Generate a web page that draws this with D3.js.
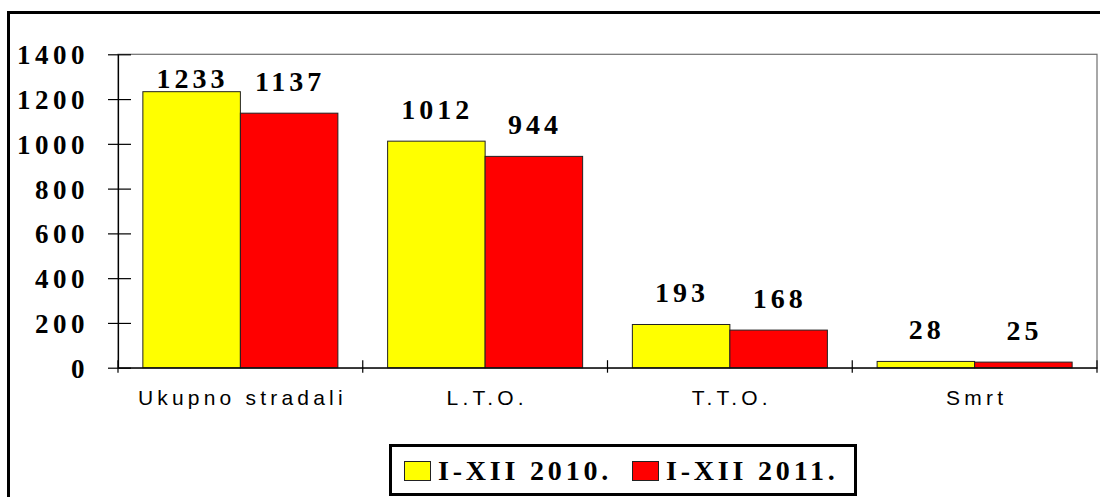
<!DOCTYPE html>
<html>
<head>
<meta charset="utf-8">
<script src="https://cdn.jsdelivr.net/npm/d3@7"></script>
<style>
  body { margin: 0; background: #fff; }
  svg { display: block; }
</style>
</head>
<body>
<div class="chart"></div>
<script>
// Stradali 2010 / 2011 - grouped bars
let categories = ["Ukupno stradali", "L.T.O.", "T.T.O.", "Smrt"];
let seriesNames = ["I-XII 2010.", "I-XII 2011."];
let values2010 = [1233, 1012, 193, 28];
let values2011 = [1137, 944, 168, 25];
let yTicks = [0, 200, 400, 600, 800, 1000, 1200, 1400];
let colors = ["#ffff00", "#ff0000"];

let svgWidth = 1100;
let svgHeight = 497;

let plot = { left: 118, right: 1097, top: 54.3, bottom: 367.7 };

let serif = "'Liberation Serif', 'Times New Roman', serif";
let sans = "'Liberation Sans', Arial, sans-serif";

let svg = d3.select(".chart")
    .append("svg")
    .attr("width", svgWidth)
    .attr("height", svgHeight);

// outer frame (runs off the right/bottom edge)
svg.append("rect")
    .attr("x", 8.5)
    .attr("y", 12.5)
    .attr("width", 1200)
    .attr("height", 600)
    .attr("fill", "none")
    .attr("stroke", "#000")
    .attr("stroke-width", 3);

// scales
let x = d3.scaleBand()
    .domain(categories)
    .range([plot.left, plot.right])
    .padding(0);

let xInner = d3.scaleBand()
    .domain(seriesNames)
    .range([0, x.bandwidth()])
    .paddingInner(0)
    .paddingOuter(0.255);

let y = d3.scaleLinear()
    .domain([0, 1400])
    .range([plot.bottom, plot.top]);

// plot area border (grey top / right)
svg.append("rect")
    .attr("x", plot.left)
    .attr("y", plot.top)
    .attr("width", plot.right - plot.left)
    .attr("height", plot.bottom - plot.top)
    .attr("fill", "none")
    .attr("stroke", "#6e6e6e")
    .attr("stroke-width", 1.2);

// bars
let data = categories.map((c, i) => ({
    cat: c,
    vals: [
        { name: seriesNames[0], value: values2010[i], color: colors[0] },
        { name: seriesNames[1], value: values2011[i], color: colors[1] }
    ]
}));

let groups = svg.selectAll(".grp")
    .data(data)
    .enter()
    .append("g")
    .attr("class", "grp")
    .attr("transform", d => `translate(${x(d.cat)},0)`);

groups.selectAll("rect")
    .data(d => d.vals)
    .enter()
    .append("rect")
    .attr("x", d => xInner(d.name))
    .attr("y", d => y(d.value))
    .attr("width", xInner.bandwidth())
    .attr("height", d => y(0) - y(d.value))
    .attr("fill", d => d.color)
    .attr("stroke", "#222")
    .attr("stroke-width", 1);

// value labels (kept inside the plot area)
groups.selectAll("text")
    .data(d => d.vals)
    .enter()
    .append("text")
    .attr("x", d => xInner(d.name) + xInner.bandwidth() / 2)
    .attr("dx", 1)
    .attr("y", d => Math.max(y(d.value) - 22.5, y(1400) + 34))
    .attr("text-anchor", "middle")
    .attr("font-family", serif)
    .attr("font-weight", "bold")
    .attr("font-size", "28px")
    .attr("letter-spacing", "4px")
    .attr("fill", "#000")
    .text(d => d.value);

// y axis
let leftAxis = d3.axisLeft(y)
    .tickValues(yTicks)
    .tickFormat(d3.format("d"))
    .tickSize(10)
    .tickSizeOuter(0)
    .tickPadding(19);

let yAxis = svg.append("g")
    .attr("transform", `translate(${plot.left},0)`)
    .call(leftAxis);

yAxis.select(".domain").attr("stroke", "#000").attr("stroke-width", 1.2);
yAxis.selectAll(".tick line")
    .attr("x1", 13)
    .attr("x2", -10)
    .attr("stroke", "#000")
    .attr("stroke-width", 1.2);
yAxis.selectAll(".tick text")
    .attr("dy", "9.5px")
    .attr("font-family", serif)
    .attr("font-weight", "bold")
    .attr("font-size", "27px")
    .attr("letter-spacing", "4.5px")
    .attr("fill", "#000");

// x axis: labels at band centres, ticks at band boundaries
let bottomAxis = d3.axisBottom(x).tickSize(0).tickSizeOuter(0);

let xAxis = svg.append("g")
    .attr("transform", `translate(0,${plot.bottom})`)
    .call(bottomAxis);

xAxis.select(".domain").attr("stroke", "#000").attr("stroke-width", 1.2);
xAxis.selectAll(".tick text")
    .attr("y", 37.5)
    .attr("dy", 0)
    .attr("dx", 2)
    .attr("font-family", sans)
    .attr("font-size", "21px")
    .attr("letter-spacing", "4.2px")
    .attr("fill", "#000");

let bounds = categories.map(c => x(c)).concat([x.range()[1]]);
xAxis.selectAll(".bound")
    .data(bounds)
    .enter()
    .append("line")
    .attr("class", "bound")
    .attr("x1", d => d)
    .attr("x2", d => d)
    .attr("y1", -7.5)
    .attr("y2", 5)
    .attr("stroke", "#000")
    .attr("stroke-width", 1.2);

// legend
let legend = svg.append("g");

legend.append("rect")
    .attr("x", 390.5)
    .attr("y", 445.5)
    .attr("width", 465)
    .attr("height", 49)
    .attr("fill", "#fff")
    .attr("stroke", "#000")
    .attr("stroke-width", 3);

let legendX = [404, 632];
seriesNames.forEach((name, i) => {
    legend.append("rect")
        .attr("x", legendX[i] + 0.5)
        .attr("y", 461.5)
        .attr("width", 26)
        .attr("height", 19)
        .attr("fill", colors[i])
        .attr("stroke", "#222")
        .attr("stroke-width", 1);
    legend.append("text")
        .attr("x", legendX[i] + 34)
        .attr("y", 479.5)
        .attr("font-family", serif)
        .attr("font-weight", "bold")
        .attr("font-size", "28px")
        .attr("letter-spacing", "3.8px")
        .attr("fill", "#000")
        .text(name);
});
</script>
</body>
</html>
